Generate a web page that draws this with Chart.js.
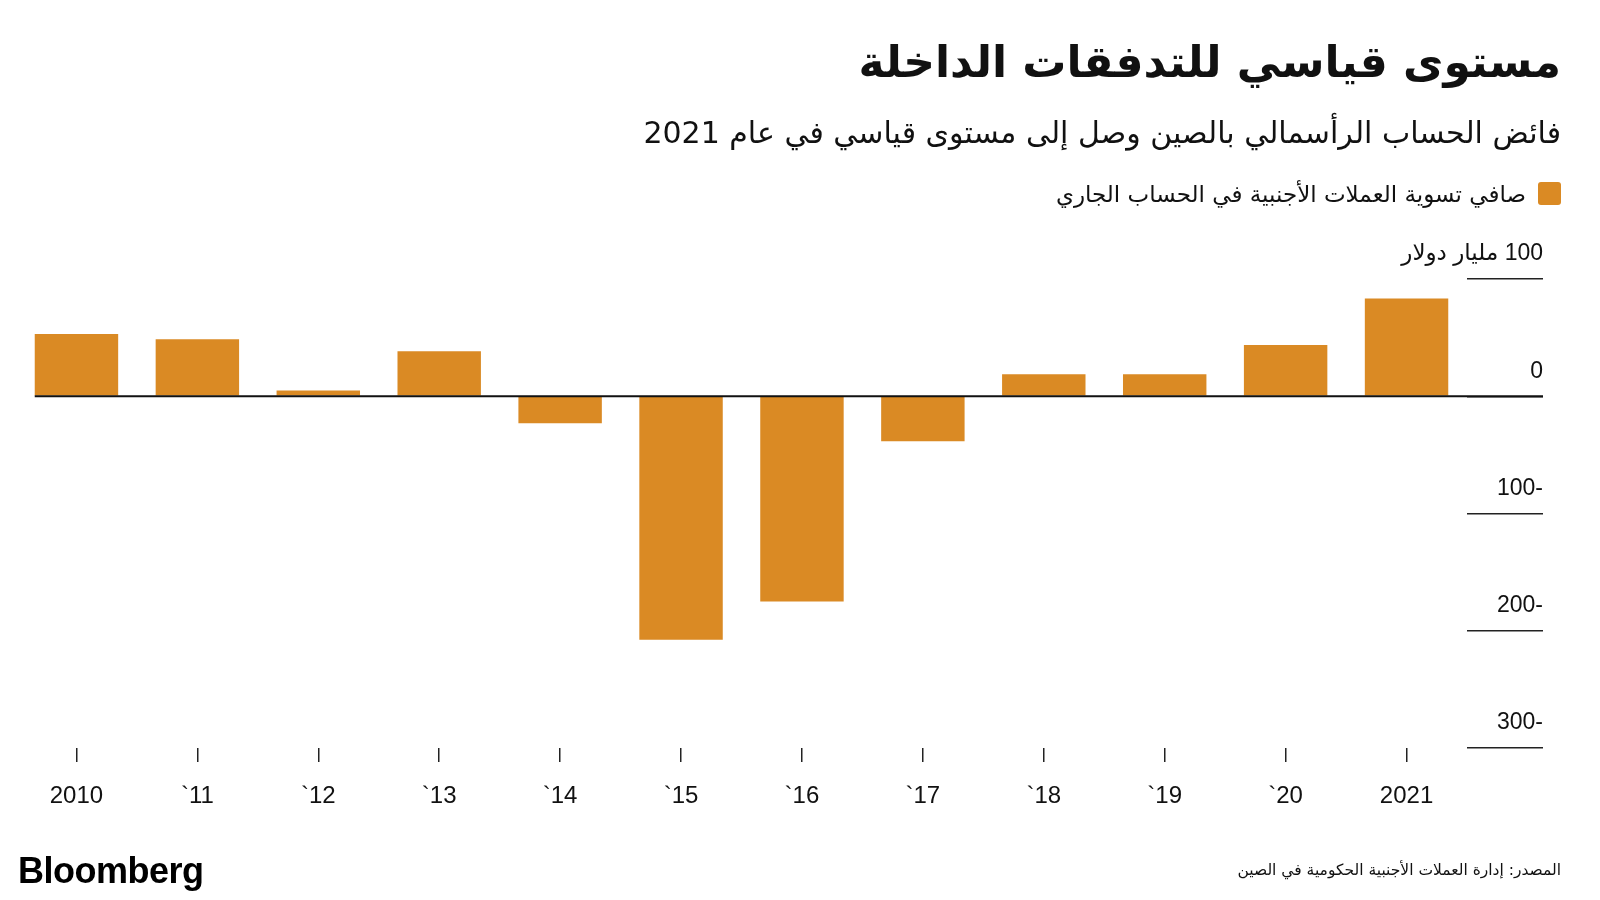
<!DOCTYPE html>
<html lang="ar">
<head>
<meta charset="utf-8">
<title>مستوى قياسي للتدفقات الداخلة</title>
<script src="https://cdn.jsdelivr.net/npm/chart.js@4.4.1/dist/chart.umd.min.js"></script>
<style>
  body { margin: 0; background: #fff; }
  #wrap { position: relative; width: 1600px; height: 900px; overflow: hidden; background: #fff; }
  #chart { position: absolute; left: 0; top: 0; }
  .txt { position: absolute; direction: rtl; color: #111; font-family: "DejaVu Sans", sans-serif; white-space: nowrap; }
  #title { right: 39px; top: 33px; font-size: 44px; line-height: 58px; font-weight: bold; }
  #subtitle { right: 39px; top: 113px; font-size: 30px; line-height: 40px; }
  #legendBox { position: absolute; left: 1538px; top: 182px; width: 23px; height: 23px; border-radius: 3px; background: #DA8A24; }
  #legendText { right: 74px; top: 177px; font-size: 23px; line-height: 34px; }
  #source { right: 39px; top: 858px; font-size: 15.5px; line-height: 24px; }
  #logo { position: absolute; left: 18px; top: 850px; font-family: "Liberation Sans", Arial, sans-serif; font-weight: bold; font-size: 36px; line-height: 42px; letter-spacing: -0.5px; color: #000; }
</style>
</head>
<body>
<div id="wrap">
  <canvas id="chart" width="1600" height="900"></canvas>
  <div class="txt" id="title">مستوى قياسي للتدفقات الداخلة</div>
  <div class="txt" id="subtitle">فائض الحساب الرأسمالي بالصين وصل إلى مستوى قياسي في عام 2021</div>
  <div id="legendBox"></div>
  <div class="txt" id="legendText">صافي تسوية العملات الأجنبية في الحساب الجاري</div>
  <div class="txt" id="source">المصدر: إدارة العملات الأجنبية الحكومية في الصين</div>
  <div id="logo">Bloomberg</div>
</div>
<script>
// السنوات والقيم (مليار دولار)
const years = ['2010', '`11', '`12', '`13', '`14', '`15', '`16', '`17', '`18', '`19', '`20', '2021'];
const netSettlement = [53, 48.6, 4.8, 38.4, -23, -207.6, -175, -38.4, 18.8, 18.7, 43.8, 83.3];
const yTicks = [100, 0, -100, -200, -300];
const yUnitLabel = '100 مليار دولار';
const barColor = '#DA8A24';

// خط الصفر وتسميات المحور الصادي فوق الخطوط القصيرة
const axisDecor = {
    id: 'axisDecor',
    afterDatasetsDraw(chart) {
        const { ctx, scales: { y } } = chart;
        const first = chart.getDatasetMeta(0).data[0];
        const left = first.x - first.width / 2;
        const y0 = y.getPixelForValue(0);
        ctx.save();
        ctx.strokeStyle = '#111';
        ctx.lineWidth = 2;
        ctx.beginPath();
        ctx.moveTo(left, y0);
        ctx.lineTo(y.right, y0);
        ctx.stroke();

        ctx.font = '23px "Liberation Sans", "DejaVu Sans", sans-serif';
        ctx.fillStyle = '#111';
        ctx.textAlign = 'right';
        ctx.textBaseline = 'middle';
        ctx.direction = 'rtl';
        yTicks.forEach(v => {
            const txt = v === 100 ? yUnitLabel : String(v);
            ctx.fillText(txt, y.right, y.getPixelForValue(v) - 25);
        });
        ctx.restore();
    }
};

const ctx = document.getElementById('chart').getContext('2d');
const chart = new Chart(ctx, {
    type: 'bar',
    data: {
        labels: years,
        datasets: [{
            label: 'صافي تسوية العملات الأجنبية في الحساب الجاري',
            data: netSettlement,
            backgroundColor: barColor,
            borderWidth: 0,
            categoryPercentage: 1,
            barPercentage: 0.69
        }]
    },
    options: {
        responsive: false,
        animation: false,
        layout: { padding: { top: 279, left: 16, right: 57, bottom: 62 } },
        plugins: { legend: { display: false }, tooltip: { enabled: false } },
        scales: {
            x: {
                border: { display: false },
                grid: { drawOnChartArea: false, offset: false, tickLength: 14, color: '#222', lineWidth: 1.5 },
                ticks: {
                    color: '#111',
                    font: { family: '"Liberation Sans", Arial, sans-serif', size: 24 },
                    padding: 20,
                    maxRotation: 0,
                    autoSkip: false
                },
                afterFit: scale => { scale.height = 90; }
            },
            y: {
                position: 'right',
                min: -300,
                max: 100,
                border: { display: false },
                grid: { drawOnChartArea: false, tickLength: 76, color: '#222', lineWidth: 1.5 },
                ticks: { stepSize: 100, display: false },
                afterFit: scale => { scale.width = 76; }
            }
        }
    },
    plugins: [axisDecor]
});
</script>
</body>
</html>
